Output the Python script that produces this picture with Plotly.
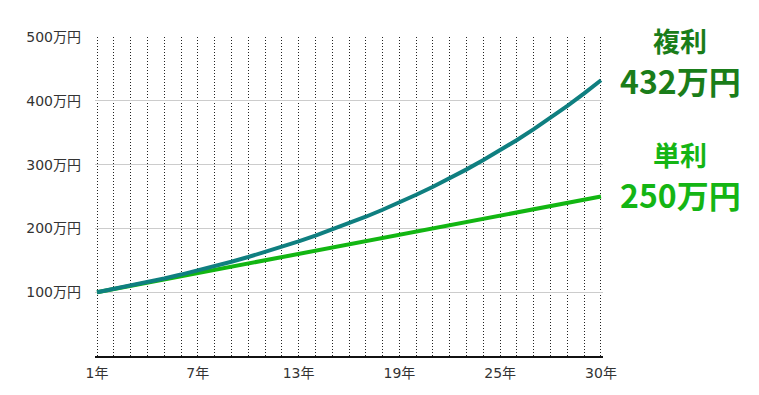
import plotly.graph_objects as go

years = list(range(0, 31))
x_tick_vals = [0, 6, 12, 18, 24, 30]
x_tick_text = ["1年", "7年", "13年", "19年", "25年", "30年"]
y_tick_vals = [100, 200, 300, 400, 500]
y_tick_text = ["100万円", "200万円", "300万円", "400万円", "500万円"]

compound = [100, 105, 110.25, 115.76, 121.55, 127.63, 134.01, 140.71, 147.75, 155.13,
            162.89, 171.03, 179.59, 188.56, 197.99, 207.89, 218.29, 229.2, 240.66, 252.7,
            265.33, 278.6, 292.53, 307.15, 322.51, 338.64, 355.57, 373.35, 392.01, 411.61, 432.19]
simple = [100, 105, 110, 115, 120, 125, 130, 135, 140, 145, 150, 155, 160, 165, 170, 175,
          180, 185, 190, 195, 200, 205, 210, 215, 220, 225, 230, 235, 240, 245, 250]

labels = [("複利", "432万円", "#1a7d1a"), ("単利", "250万円", "#14b514")]

font = "Noto Sans CJK JP"
tick_font = "DejaVu Sans, Noto Sans CJK JP"

fig = go.Figure()
fig.add_trace(go.Scatter(x=years, y=simple, mode="lines",
                         line=dict(color="#12b612", width=4), hoverinfo="skip"))
fig.add_trace(go.Scatter(x=years, y=compound, mode="lines",
                         line=dict(color="#0f7f80", width=4), hoverinfo="skip"))

all_text = [x_tick_text[x_tick_vals.index(v)] if v in x_tick_vals else "" for v in years]

fig.update_layout(
    width=759, height=395,
    margin=dict(l=95, r=156, t=37, b=39),
    paper_bgcolor="white", plot_bgcolor="white",
    showlegend=False,
    font=dict(family=tick_font, size=14, color="#333333"),
    xaxis=dict(range=[-0.12, 30.12], tickvals=years, ticktext=all_text,
               showgrid=True, gridcolor="#222222", griddash="1px,2px", gridwidth=1,
               showline=True, linecolor="#111111", linewidth=2,
               ticks="", zeroline=False, fixedrange=True,
               ticklabelstandoff=3),
    yaxis=dict(range=[0, 500], tickvals=y_tick_vals, ticktext=y_tick_text,
               showgrid=True, gridcolor="#cccccc", gridwidth=1,
               showline=False, ticks="", zeroline=False,
               ticklabelstandoff=13),
)

cx = (680 - 95) / (603 - 95)
for i, (name, amount, color) in enumerate(labels):
    fig.add_annotation(xref="paper", yref="paper", x=cx,
                       y=1 - ([41, 154][i] - 37) / (356 - 37), text="<b>%s</b>" % name,
                       showarrow=False, font=dict(size=27, color=color, family=font),
                       xanchor="center", yanchor="middle")
    fig.add_annotation(xref="paper", yref="paper", x=cx,
                       y=1 - ([80, 194][i] - 37) / (356 - 37), text="<b>%s</b>" % amount,
                       showarrow=False, font=dict(size=32, color=color, family=font),
                       xanchor="center", yanchor="middle")

fig.write_html("out.html")
